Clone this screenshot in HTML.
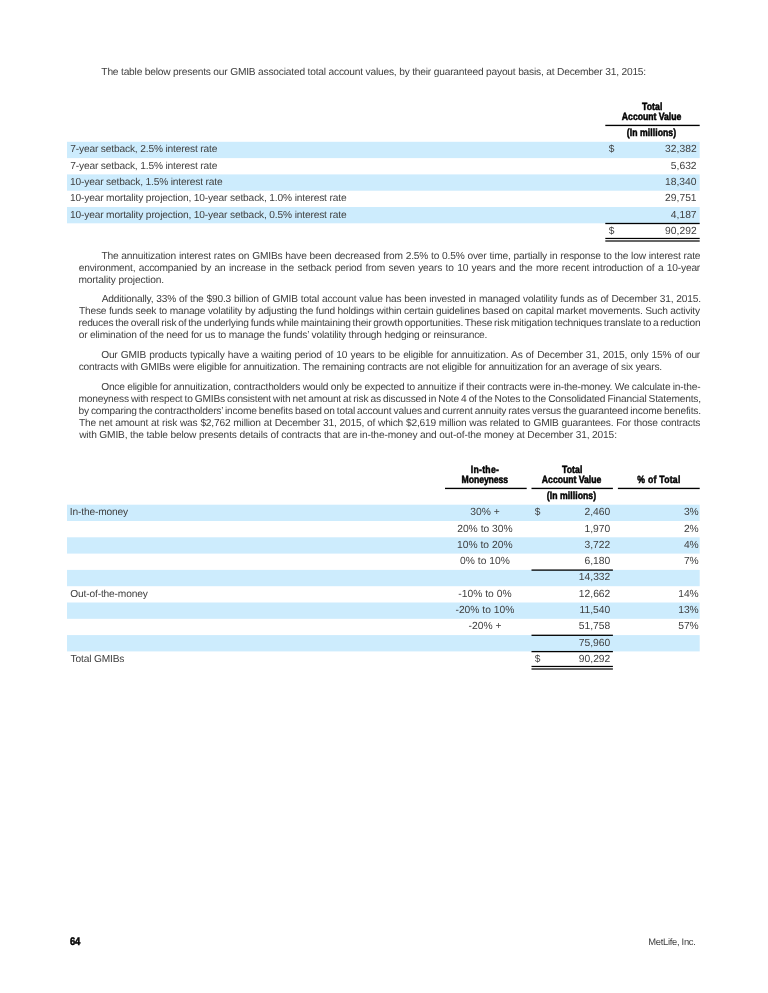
<!DOCTYPE html>
<html lang="en">
<head>
<meta charset="utf-8">
<title>MetLife, Inc. - GMIB total account values</title>
<style>
html,body{margin:0;padding:0;background:#fff;}
body{width:768px;height:993px;position:relative;overflow:hidden;font-family:"Liberation Sans",sans-serif;color:#404040;}
#g{position:absolute;left:0;top:0;width:768px;height:993px;}
.t{position:absolute;margin:0;white-space:pre;text-rendering:geometricPrecision;font-size:10.2px;line-height:12px;letter-spacing:-0.19px;}
.b{font-weight:bold;letter-spacing:0;color:#000;-webkit-text-stroke:0.5px #000;}
</style>
</head>
<body>
<svg id="g" width="768" height="993" viewBox="0 0 768 993">
<rect x="67.00" y="141.80" width="632.70" height="16.30" fill="#cdecfd"/>
<rect x="67.00" y="174.40" width="632.70" height="16.30" fill="#cdecfd"/>
<rect x="67.00" y="207.00" width="632.70" height="16.30" fill="#cdecfd"/>
<rect x="605.30" y="222.85" width="94.40" height="1.30" fill="#000"/>
<rect x="605.30" y="237.85" width="94.40" height="1.20" fill="#000"/>
<rect x="605.30" y="240.10" width="94.40" height="1.80" fill="#555"/>
<rect x="605.30" y="124.75" width="94.40" height="1.35" fill="#000"/>
<rect x="445.00" y="487.75" width="81.70" height="1.35" fill="#000"/>
<rect x="531.50" y="487.75" width="81.40" height="1.35" fill="#000"/>
<rect x="617.90" y="487.75" width="81.80" height="1.35" fill="#000"/>
<rect x="67.00" y="504.70" width="632.70" height="16.30" fill="#cdecfd"/>
<rect x="67.00" y="537.30" width="632.70" height="16.30" fill="#cdecfd"/>
<rect x="67.00" y="569.90" width="632.70" height="16.30" fill="#cdecfd"/>
<rect x="531.50" y="569.45" width="81.40" height="1.30" fill="#000"/>
<rect x="67.00" y="602.50" width="632.70" height="16.30" fill="#cdecfd"/>
<rect x="67.00" y="635.10" width="632.70" height="16.30" fill="#cdecfd"/>
<rect x="531.50" y="634.65" width="81.40" height="1.30" fill="#000"/>
<rect x="531.50" y="650.95" width="81.40" height="1.30" fill="#000"/>
<rect x="531.50" y="665.85" width="81.40" height="1.20" fill="#000"/>
<rect x="531.50" y="668.10" width="81.40" height="1.80" fill="#555"/>
</svg>
<div class="t" style="left:101.37px;top:67px;letter-spacing:-0.187px">The table below presents our GMIB associated total account values, by their guaranteed payout basis, at December 31, 2015:</div>
<div class="t" style="left:101.42px;top:251px;word-spacing:0.274px">The annuitization interest rates on GMIBs have been decreased from 2.5% to 0.5% over time, partially in response to the low interest rate</div>
<div class="t" style="left:78.72px;top:263px;word-spacing:0.820px">environment, accompanied by an increase in the setback period from seven years to 10 years and the more recent introduction of a 10-year</div>
<div class="t" style="left:78.47px;top:275px;letter-spacing:-0.134px">mortality projection.</div>
<div class="t" style="left:101.63px;top:294px;word-spacing:0.267px">Additionally, 33% of the $90.3 billion of GMIB total account value has been invested in managed volatility funds as of December 31, 2015.</div>
<div class="t" style="left:78.92px;top:306px;word-spacing:-0.011px">These funds seek to manage volatility by adjusting the fund holdings within certain guidelines based on capital market movements. Such activity</div>
<div class="t" style="left:78.47px;top:318px;word-spacing:-0.768px">reduces the overall risk of the underlying funds while maintaining their growth opportunities. These risk mitigation techniques translate to a reduction</div>
<div class="t" style="left:78.72px;top:330px;letter-spacing:-0.187px">or elimination of the need for us to manage the funds’ volatility through hedging or reinsurance.</div>
<div class="t" style="left:101.17px;top:350px;word-spacing:0.572px">Our GMIB products typically have a waiting period of 10 years to be eligible for annuitization. As of December 31, 2015, only 15% of our</div>
<div class="t" style="left:78.72px;top:362px;letter-spacing:-0.224px">contracts with GMIBs were eligible for annuitization. The remaining contracts are not eligible for annuitization for an average of six years.</div>
<div class="t" style="left:101.17px;top:382px;word-spacing:-0.196px">Once eligible for annuitization, contractholders would only be expected to annuitize if their contracts were in-the-money. We calculate in-the-</div>
<div class="t" style="left:78.47px;top:394px;word-spacing:-0.557px">moneyness with respect to GMIBs consistent with net amount at risk as discussed in Note 4 of the Notes to the Consolidated Financial Statements,</div>
<div class="t" style="left:78.49px;top:406px;word-spacing:-0.598px">by comparing the contractholders’ income benefits based on total account values and current annuity rates versus the guaranteed income benefits.</div>
<div class="t" style="left:78.92px;top:418px;word-spacing:0.244px">The net amount at risk was $2,762 million at December 31, 2015, of which $2,619 million was related to GMIB guarantees. For those contracts</div>
<div class="t" style="left:79.16px;top:430px;letter-spacing:-0.157px">with GMIB, the table below presents details of contracts that are in-the-money and out-of-the money at December 31, 2015:</div>
<div class="t" style="left:70.23px;top:144px;letter-spacing:-0.155px">7-year setback, 2.5% interest rate</div>
<div class="t" style="left:665.12px;top:144px;font-size:10.3px;letter-spacing:0.000px">32,382</div>
<div class="t" style="left:608.79px;top:144px">$</div>
<div class="t" style="left:70.23px;top:161px;letter-spacing:-0.155px">7-year setback, 1.5% interest rate</div>
<div class="t" style="left:670.84px;top:161px;font-size:10.3px;letter-spacing:0.000px">5,632</div>
<div class="t" style="left:69.97px;top:177px;letter-spacing:-0.155px">10-year setback, 1.5% interest rate</div>
<div class="t" style="left:665.00px;top:177px;font-size:10.3px;letter-spacing:0.000px">18,340</div>
<div class="t" style="left:69.97px;top:193px;letter-spacing:-0.155px">10-year mortality projection, 10-year setback, 1.0% interest rate</div>
<div class="t" style="left:665.10px;top:193px;font-size:10.3px;letter-spacing:0.000px">29,751</div>
<div class="t" style="left:69.97px;top:210px;letter-spacing:-0.155px">10-year mortality projection, 10-year setback, 0.5% interest rate</div>
<div class="t" style="left:670.84px;top:210px;font-size:10.3px;letter-spacing:0.000px">4,187</div>
<div class="t" style="left:608.79px;top:226px">$</div>
<div class="t" style="left:665.12px;top:226px;font-size:10.3px;letter-spacing:0.000px">90,292</div>
<div class="t b" style="left:640.15px;top:102px;font-size:10.4px;letter-spacing:0.066px;transform:scaleX(0.835);transform-origin:center center">Total</div>
<div class="t b" style="left:616.47px;top:112px;font-size:10.4px;letter-spacing:-0.038px;transform:scaleX(0.835);transform-origin:center center">Account Value</div>
<div class="t b" style="left:622.30px;top:128px;font-size:10.4px;letter-spacing:0.057px;transform:scaleX(0.835);transform-origin:center center">(In millions)</div>
<div class="t b" style="left:468.02px;top:465px;font-size:10.4px;letter-spacing:0.323px;transform:scaleX(0.835);transform-origin:center center">In-the-</div>
<div class="t b" style="left:457.00px;top:475px;font-size:10.4px;letter-spacing:-0.108px;transform:scaleX(0.835);transform-origin:center center">Moneyness</div>
<div class="t b" style="left:559.85px;top:465px;font-size:10.4px;letter-spacing:0.066px;transform:scaleX(0.835);transform-origin:center center">Total</div>
<div class="t b" style="left:536.17px;top:475px;font-size:10.4px;letter-spacing:-0.038px;transform:scaleX(0.835);transform-origin:center center">Account Value</div>
<div class="t b" style="left:633.07px;top:475px;font-size:10.4px;letter-spacing:0.295px;transform:scaleX(0.835);transform-origin:center center">% of Total</div>
<div class="t b" style="left:542.00px;top:491px;font-size:10.4px;letter-spacing:0.057px;transform:scaleX(0.835);transform-origin:center center">(In millions)</div>
<div class="t" style="left:69.81px;top:507px;letter-spacing:-0.155px">In-the-money</div>
<div class="t" style="left:470.32px;top:507px;font-size:10.3px;letter-spacing:0.000px">30% +</div>
<div class="t" style="left:534.69px;top:507px">$</div>
<div class="t" style="left:584.42px;top:507px;font-size:10.3px;letter-spacing:0.000px">2,460</div>
<div class="t" style="left:683.88px;top:507px;font-size:10.3px;letter-spacing:0.000px">3%</div>
<div class="t" style="left:457.16px;top:524px;font-size:10.3px;letter-spacing:0.000px">20% to 30%</div>
<div class="t" style="left:584.42px;top:524px;font-size:10.3px;letter-spacing:0.000px">1,970</div>
<div class="t" style="left:683.88px;top:524px;font-size:10.3px;letter-spacing:0.000px">2%</div>
<div class="t" style="left:457.03px;top:540px;font-size:10.3px;letter-spacing:0.000px">10% to 20%</div>
<div class="t" style="left:584.54px;top:540px;font-size:10.3px;letter-spacing:0.000px">3,722</div>
<div class="t" style="left:683.88px;top:540px;font-size:10.3px;letter-spacing:0.000px">4%</div>
<div class="t" style="left:460.08px;top:556px;font-size:10.3px;letter-spacing:0.000px">0% to 10%</div>
<div class="t" style="left:584.42px;top:556px;font-size:10.3px;letter-spacing:0.000px">6,180</div>
<div class="t" style="left:683.88px;top:556px;font-size:10.3px;letter-spacing:0.000px">7%</div>
<div class="t" style="left:578.82px;top:572px;font-size:10.3px;letter-spacing:0.000px">14,332</div>
<div class="t" style="left:70.27px;top:589px;letter-spacing:-0.155px">Out-of-the-money</div>
<div class="t" style="left:458.34px;top:589px;font-size:10.3px;letter-spacing:0.000px">-10% to 0%</div>
<div class="t" style="left:578.82px;top:589px;font-size:10.3px;letter-spacing:0.000px">12,662</div>
<div class="t" style="left:678.16px;top:589px;font-size:10.3px;letter-spacing:0.000px">14%</div>
<div class="t" style="left:455.47px;top:605px;font-size:10.3px;letter-spacing:0.000px">-20% to 10%</div>
<div class="t" style="left:579.47px;top:605px;font-size:10.3px;letter-spacing:0.000px">11,540</div>
<div class="t" style="left:678.16px;top:605px;font-size:10.3px;letter-spacing:0.000px">13%</div>
<div class="t" style="left:468.56px;top:621px;font-size:10.3px;letter-spacing:0.000px">-20% +</div>
<div class="t" style="left:578.75px;top:621px;font-size:10.3px;letter-spacing:0.000px">51,758</div>
<div class="t" style="left:678.16px;top:621px;font-size:10.3px;letter-spacing:0.000px">57%</div>
<div class="t" style="left:578.70px;top:638px;font-size:10.3px;letter-spacing:0.000px">75,960</div>
<div class="t" style="left:70.52px;top:654px;letter-spacing:-0.155px">Total GMIBs</div>
<div class="t" style="left:534.69px;top:654px">$</div>
<div class="t" style="left:578.82px;top:654px;font-size:10.3px;letter-spacing:0.000px">90,292</div>
<div class="t b" style="left:69.85px;top:936px;font-size:11px;letter-spacing:-0.160px;transform:scaleX(0.86);transform-origin:left center">64</div>
<div class="t" style="left:648.23px;top:936px;font-size:9.4px;letter-spacing:-0.286px">MetLife, Inc.</div>
</body>
</html>
